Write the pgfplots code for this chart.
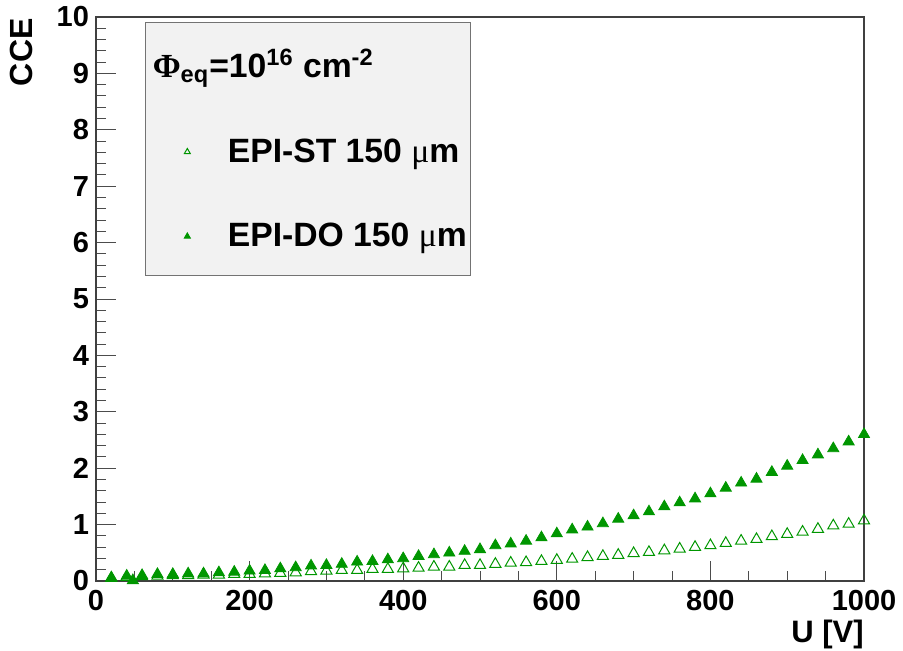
\documentclass[border=0pt]{standalone}
\usepackage{fontspec}
\setmainfont{Liberation Sans}
\newfontfamily\symf{Liberation Serif}
\usepackage{pgfplots}
\pgfplotsset{compat=1.18}
\definecolor{rootgreen}{RGB}{0,150,0}
\pgfplotsset{legimg/.style={legend image code/.code={\path[draw=none,fill=none] (0cm,0cm) -- (1.376cm,0cm);
    \draw[##1, only marks, mark size=1.7pt] plot coordinates {(0.70cm,0cm)};}}}

\pgfplotstableread{
U CCE
20 0.05
40 0.07
60 0.08
80 0.09
100 0.10
120 0.10
140 0.11
160 0.11
180 0.12
200 0.12
220 0.13
240 0.14
260 0.15
280 0.17
300 0.18
320 0.19
340 0.19
360 0.21
380 0.21
400 0.22
420 0.23
440 0.25
460 0.25
480 0.28
500 0.28
520 0.30
540 0.32
560 0.33
580 0.35
600 0.37
620 0.39
640 0.42
660 0.44
680 0.46
700 0.49
720 0.51
740 0.54
760 0.57
780 0.60
800 0.63
820 0.67
840 0.71
860 0.74
880 0.79
900 0.83
920 0.87
940 0.92
960 0.98
980 1.01
1000 1.07
}\epist

\pgfplotstableread{
U CCE
20 0.06
40 0.09
48 0.01
60 0.10
80 0.12
100 0.12
120 0.13
140 0.13
160 0.15
180 0.16
200 0.18
220 0.19
240 0.22
260 0.24
280 0.27
300 0.28
320 0.30
340 0.34
360 0.35
380 0.38
400 0.40
420 0.44
440 0.47
460 0.50
480 0.53
500 0.56
520 0.63
540 0.66
560 0.71
580 0.77
600 0.84
620 0.91
640 0.96
660 1.02
680 1.10
700 1.16
720 1.23
740 1.32
760 1.39
780 1.46
800 1.55
820 1.65
840 1.74
860 1.81
880 1.93
900 2.04
920 2.14
940 2.24
960 2.35
980 2.47
1000 2.60
}\epido

\begin{document}
\begin{tikzpicture}
\begin{axis}[
  at={(0,0)}, anchor=south west,
  scale only axis, width=384pt, height=282pt,
  xmin=0, xmax=1000, ymin=0, ymax=10,
  xtick={0,200,...,1000}, ytick={0,1,...,10},
  minor x tick num=3, minor y tick num=4,
  xtick pos=left, ytick pos=left, tick align=inside,
  major tick length=10pt, minor tick length=5pt,
  tick style={black!70, line width=0.5pt},
  axis line style={black!75, line width=0.6pt},
  scaled ticks=false,
  /pgf/number format/1000 sep={},
  /pgf/number format/assume math mode=true,
  ticklabel style={font=\fontsize{14.5}{16}\selectfont\bfseries},
  xticklabel style={yshift=-1pt},
  xlabel={U [V]}, ylabel={CCE},
  xlabel style={font=\fontsize{15.5}{17}\selectfont\bfseries,
    at={(axis description cs:1,-0.094)}, anchor=east, inner sep=0pt},
  ylabel style={font=\fontsize{16}{18}\selectfont\bfseries,
    at={(axis description cs:-0.097,0.998)}, anchor=east, inner sep=0pt},
  clip=false,
  legend style={at={(axis description cs:0.0638,0.991)}, anchor=north west,
    fill=black!5, draw=black!55, line width=0.5pt,
    font=\fontsize{16.85}{19}\selectfont\bfseries,
    inner xsep=1pt, inner ysep=11pt, row sep=25pt,
    nodes={inner xsep=1pt},
    cells={anchor=west}},
  legend cell align=left,
]
\addlegendimage{empty legend}
\addlegendentry{\hspace*{-37.5pt}{\symf Φ}\textsubscript{eq}=10\textsuperscript{16} cm\textsuperscript{-2}}
\addplot[only marks, mark=triangle, mark size=3.2pt, draw=rootgreen, line width=0.5pt, legimg]
  table[x=U, y=CCE] {\epist};
\addlegendentry{EPI-ST 150 {\mdseries\symf μ}m}
\addplot[only marks, mark=triangle*, mark size=3.2pt, draw=rootgreen, fill=rootgreen, legimg]
  table[x=U, y=CCE] {\epido};
\addlegendentry{EPI-DO 150 {\mdseries\symf μ}m}
\end{axis}
\pgfresetboundingbox
\path[use as bounding box] (-48pt,-34.5pt) rectangle (403.5pt,290.5pt);
\end{tikzpicture}
\end{document}
